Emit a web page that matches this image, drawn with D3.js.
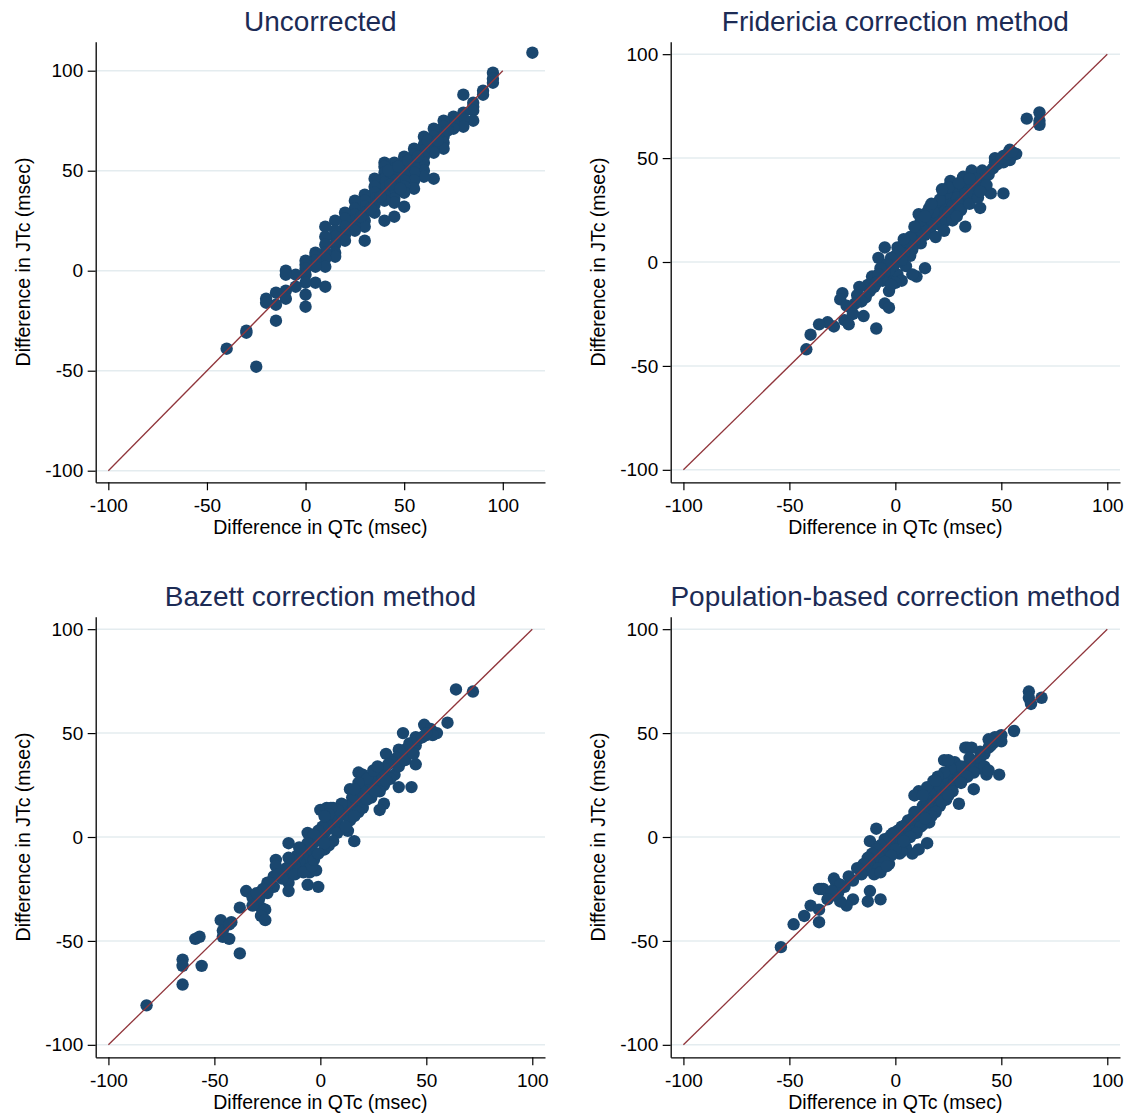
<!DOCTYPE html>
<html>
<head>
<meta charset="utf-8">
<script src="https://d3js.org/d3.v7.min.js"></script>
<style>
  body { margin: 0; background: #fff; }
  text { font-family: "Liberation Sans", Arial, Helvetica, sans-serif; }
</style>
</head>
<body>
<script>
// panel titles and axis texts
var titles = ["Uncorrected", "Fridericia correction method",
              "Bazett correction method", "Population-based correction method"];
var xTitle = "Difference in QTc (msec)";
var yTitle = "Difference in JTc (msec)";
var tickVals = [-100, -50, 0, 50, 100];
var identity = [-100, 100];

// [difference in QTc, difference in JTc]
var uncorrected = [
  [115,109],[95,99],[95,96],[95,94],[90,90],[90,88],[80,88],[85,84],[85,82],[85,80],[85,75],
  [80,79],[80,76],[80,72],[75,77],[75,74],[75,71],[70,75],[70,72],[70,69],[70,67],[70,64],[70,61],
  [65,71],[65,67],[65,64],[65,61],[65,59],[65,46],[60,67],[60,63],[60,60],[60,57],[60,54],[60,50],[60,47],
  [55,61],[55,58],[55,55],[55,52],[55,49],[55,45],[55,41],[50,57],[50,54],[50,51],[50,48],[50,45],
  [50,42],[50,39],[50,32],[45,54],[45,51],[45,48],[45,45],[45,42],[45,39],[45,36],[45,34],[45,27],
  [40,54],[40,52],[40,49],[40,46],[40,44],[40,41],[40,38],[40,35],[40,25],[35,46],[35,42],[35,39],
  [35,36],[35,33],[35,29],[30,38],[30,35],[30,32],[30,29],[30,25],[30,22],[30,15],[25,35],[25,31],
  [25,28],[25,25],[25,22],[25,20],[20,29],[20,26],[20,22],[20,18],[20,15],[15,25],[15,20],[15,17],
  [15,13],[15,9],[15,7],[10,22],[10,17],[10,13],[10,9],[10,6],[10,2],[10,-8],[5,9],[5,7],[5,5],
  [5,2],[5,-6],[0,5],[0,3],[0,1],[0,-2],[0,-6],[0,-12],[0,-18],[-5,-2],[-5,-8],[-10,0],[-10,-2],
  [-10,-10],[-10,-14],[-15,-11],[-15,-17],[-15,-25],[-20,-14],[-20,-16],[-30,-30],[-30,-31],
  [-40,-39],[-25,-48],
  [42,50],[47,52],[43,43],[48,41],[52,55],[57,57],[38,37],[33,31],[28,27],[62,65],[67,65],[72,70]
];

var fridericia = [
  [68,72],[62,69],[68,68],[68,66],[57,52],[54,54],[54,49],[51,51],[51,48],[47,50],[47,48],[51,33],
  [36,44],[41,44],[41,39],[45,33],[40,26],[26,39],[32,41],[32,36],[32,30],[33,17],[22,31],[22,26],
  [22,20],[16,26],[16,21],[16,15],[11,23],[11,17],[11,11],[5,10],[5,5],[5,-2],[1,7],[1,0],[1,-6],
  [14,-3],[10,-7],[-5,7],[-8,2],[-4,-7],[-3,-14],[-5,-20],[-3,-22],[-11,-7],[-13,-11],[-17,-12],
  [-18,-16],[-25,-15],[-26,-18],[-24,-28],[-22,-30],[-15,-26],[-9,-32],[-29,-31],[-32,-29],
  [-36,-30],[-40,-35],[-42,-42],
  [28,33],[30,35],[34,37],[36,38],[38,36],[42,40],[44,42],[46,45],[48,47],[50,50],[53,52],[55,53],
  [24,28],[26,30],[27,27],[29,31],[30,28],[31,25],[33,33],[35,32],[35,28],[37,33],[39,31],[20,22],
  [20,27],[21,18],[23,24],[24,20],[25,24],[18,20],[18,24],[17,17],[15,18],[14,13],[13,16],[12,20],
  [12,9],[10,14],[9,10],[8,6],[7,12],[7,3],[6,8],[4,4],[3,1],[2,5],[0,3],[-1,-2],[-2,2],[-3,-4],
  [-4,-1],[-5,-5],[-6,-9],[-7,-3],[-8,-6],[-9,-10],[-10,-12],[-12,-14],[-14,-17],[-16,-19],
  [-19,-20],[-21,-22],[-23,-21],[-20,-25],[19,12],[23,15],[27,20],[29,22],[24,33],[21,30],[15,24],
  [9,17],[4,11],[38,40],[43,37],[40,34],[25,36],[22,35],[30,38],[17,28],[14,22],[35,40],[8,-6],
  [3,-9],[0,-10],[-2,-11]
];

var bazett = [
  [64,71],[72,70],[60,55],[55,50],[49,54],[50,49],[39,50],[45,44],[45,48],[45,35],[43,24],[37,24],
  [31,40],[37,42],[30,32],[30,27],[30,16],[28,13],[18,31],[21,27],[14,23],[16,-2],[13,3],[2,-6],
  [0,13],[3,14],[6,14],[-15,-3],[-6,2],[-21,-11],[-11,-10],[-10,-13],[-6,-14],[-5,-17],[-2,-16],
  [-21,-14],[-22,-19],[-25,-22],[-15,-22],[-6,-23],[-1,-24],[-15,-26],[-35,-26],[-38,-34],
  [-29,-30],[-28,-34],[-32,-29],[-26,-35],[-28,-38],[-26,-40],[-47,-40],[-46,-48],[-43,-49],
  [-42,-41],[-46,-45],[-43,-42],[-59,-49],[-57,-48],[-38,-56],[-65,-59],[-65,-62],[-56,-62],
  [-65,-71],[-82,-81],
  [40,42],[42,45],[38,40],[36,38],[34,36],[32,35],[30,33],[28,30],[26,28],[25,25],[24,27],[22,24],
  [20,22],[19,18],[17,20],[16,16],[15,19],[14,14],[13,11],[12,15],[11,12],[10,14],[9,10],[8,8],
  [7,11],[6,6],[5,9],[4,4],[3,7],[2,2],[1,5],[0,0],[-1,3],[-2,-2],[-3,1],[-4,-4],[-5,-6],[-6,-3],
  [-7,-8],[-8,-10],[-9,-6],[-10,-12],[-11,-9],[-12,-14],[-13,-11],[-14,-17],[-16,-15],[-18,-20],
  [-20,-18],[-22,-24],[-24,-22],[-25,-27],[-27,-25],[-29,-29],[-30,-27],[-32,-33],[20,30],[22,28],
  [25,32],[27,34],[18,26],[16,23],[35,30],[33,28],[30,25],[28,22],[24,19],[20,14],[18,12],[14,8],
  [10,4],[8,2],[6,-2],[4,-4],[2,-3],[12,5],[16,10],[22,18],[26,22],[31,27],[37,34],[40,37],[44,40],
  [46,47],[48,48],[52,52],[53,49],[50,50],[10,16],[8,13],[5,14],[4,11],[2,10],[-10,-5],[-15,-10],
  [-12,-18],[-8,-17],[-4,-14],[-3,-11],[-1,-8]
];

var population = [
  [63,70],[63,67],[64,64],[69,67],[56,51],[49,48],[50,46],[44,47],[45,44],[34,43],[40,41],[49,30],
  [43,32],[43,30],[37,23],[23,37],[30,16],[16,7],[13,6],[11,22],[9,20],[15,-3],[11,-6],[8,-8],
  [2,-8],[-3,-13],[-9,4],[-12,-2],[-12,-26],[-7,-30],[-13,-31],[-20,-30],[-23,-33],[-26,-31],
  [-29,-20],[-28,-22],[-36,-25],[-35,-25],[-34,-25],[-40,-33],[-36,-35],[-43,-38],[-36,-41],
  [-48,-42],[-54,-53],
  [0,0],[2,3],[4,2],[5,6],[7,5],[8,9],[10,8],[11,12],[12,10],[13,15],[14,13],[15,17],[16,14],
  [17,19],[18,16],[19,22],[20,18],[21,24],[22,20],[23,26],[24,22],[25,28],[26,24],[27,30],[28,26],
  [29,32],[30,28],[32,31],[33,34],[35,33],[36,36],[38,35],[40,38],[42,40],[44,43],[46,45],[48,47],
  [50,49],[47,48],[45,46],[-1,-3],[-2,1],[-3,-2],[-4,-5],[-5,-1],[-6,-7],[-7,-4],[-8,-9],[-9,-6],
  [-10,-11],[-11,-8],[-12,-13],[-13,-10],[-14,-16],[-15,-13],[-16,-18],[-18,-15],[-20,-21],
  [-22,-19],[-24,-24],[-26,-23],[-27,-27],[-29,-28],[-30,-26],[-32,-30],[5,-5],[3,-7],[0,-6],
  [-2,-9],[-5,-12],[-8,-15],[-10,-18],[-7,-17],[-4,-14],[28,36],[33,43],[36,43],[35,38],[31,34],
  [26,33],[23,31],[20,29],[18,27],[15,24],[13,20],[40,33],[42,34],[44,32],[37,31],[34,29],[31,26],
  [27,22],[24,18],[21,15],[19,12],[17,10],[12,5],[10,2],[7,0],[4,-2],[19,27],[22,17],[25,20],
  [14,9],[9,12],[6,8],[3,5],[1,3],[-1,2],[25,37]
];

var panels = [
  {title: titles[0], data: uncorrected, x0: 95.7, x1: 545, y0: 41.7, y1: 482.3,
   xd: [-106.4, 121.4], yd: [-105.8, 114.5]},
  {title: titles[1], data: fridericia, x0: 670.7, x1: 1120, y0: 41.7, y1: 482.3,
   xd: [-106, 106], yd: [-106, 106]},
  {title: titles[2], data: bazett, x0: 95.7, x1: 545, y0: 616.7, y1: 1057.3,
   xd: [-106, 106], yd: [-106, 106]},
  {title: titles[3], data: population, x0: 670.7, x1: 1120, y0: 616.7, y1: 1057.3,
   xd: [-106, 106], yd: [-106, 106]}
];

var svg = d3.select("body").append("svg")
  .attr("width", 1131)
  .attr("height", 1115);

panels.forEach(function (p) {
  var x = d3.scaleLinear().domain(p.xd).range([p.x0, p.x1]);
  var y = d3.scaleLinear().domain(p.yd).range([p.y1, p.y0]);
  var g = svg.append("g");

  // horizontal grid
  g.selectAll("line.grid")
    .data(tickVals)
    .enter()
    .append("line")
    .attr("class", "grid")
    .attr("x1", p.x0).attr("x2", p.x1)
    .attr("y1", function (d) { return y(d); })
    .attr("y2", function (d) { return y(d); })
    .style("stroke", "#e4ecef")
    .style("stroke-width", 1.5);

  // points
  g.selectAll("circle")
    .data(p.data)
    .enter()
    .append("circle")
    .attr("cx", function (d) { return x(d[0]); })
    .attr("cy", function (d) { return y(d[1]); })
    .attr("r", 6.2)
    .style("fill", "#1a476f");

  // line of identity
  g.append("line")
    .attr("x1", x(identity[0])).attr("y1", y(identity[0]))
    .attr("x2", x(identity[1])).attr("y2", y(identity[1]))
    .style("stroke", "#90353b")
    .style("stroke-width", 1.3);

  // axes
  var fmt = function (d) { return String(d); };
  var ya = g.append("g")
    .attr("transform", "translate(" + p.x0 + ",0)")
    .call(d3.axisLeft(y).tickValues(tickVals).tickFormat(fmt)
      .tickSize(8).tickSizeOuter(0).tickPadding(4.5));
  var xa = g.append("g")
    .attr("transform", "translate(0," + p.y1 + ")")
    .call(d3.axisBottom(x).tickValues(tickVals).tickFormat(fmt)
      .tickSize(8).tickSizeOuter(0).tickPadding(8));
  [ya, xa].forEach(function (a) {
    a.attr("font-family", "Liberation Sans, Arial, sans-serif")
      .attr("font-size", 19)
      .style("color", "#000");
    a.select(".domain").style("stroke-width", 1.3);
    a.selectAll(".tick line").style("stroke-width", 1.2);
  });

  // axis titles
  g.append("text")
    .attr("x", (p.x0 + p.x1) / 2)
    .attr("y", p.y1 + 52)
    .attr("text-anchor", "middle")
    .style("font-size", "19.5px")
    .style("fill", "#000")
    .text(xTitle);

  g.append("text")
    .attr("transform", "translate(" + (p.x0 - 66) + "," + ((p.y0 + p.y1) / 2) + ") rotate(-90)")
    .attr("text-anchor", "middle")
    .style("font-size", "19.5px")
    .style("fill", "#000")
    .text(yTitle);

  // panel title
  g.append("text")
    .attr("x", (p.x0 + p.x1) / 2)
    .attr("y", p.y0 - 10.5)
    .attr("text-anchor", "middle")
    .style("font-size", "28px")
    .style("fill", "#1c2b55")
    .text(p.title);
});
</script>
</body>
</html>
